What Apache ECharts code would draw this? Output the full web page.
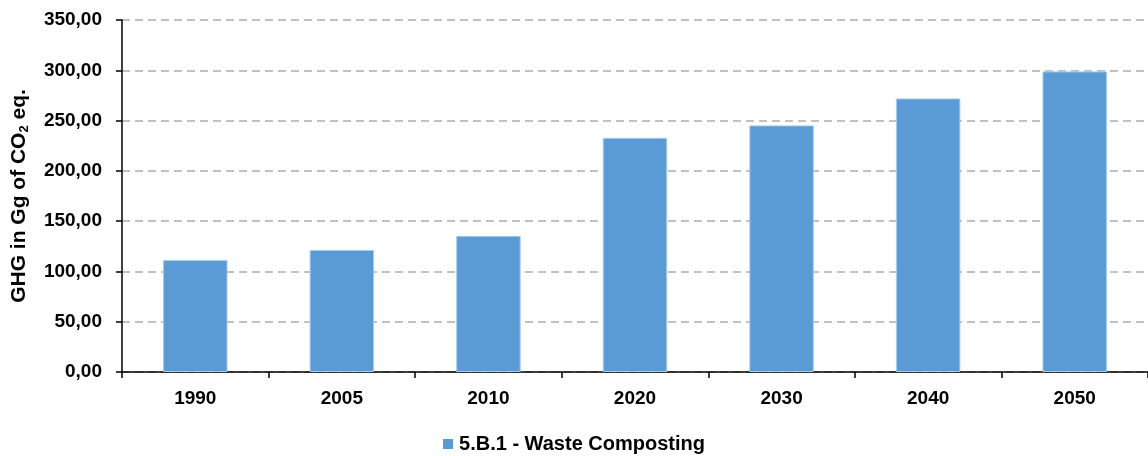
<!DOCTYPE html>
<html>
<head>
<meta charset="utf-8">
<script src="https://cdn.jsdelivr.net/npm/echarts@6/dist/echarts.min.js"></script>
<style>
  html, body { margin: 0; padding: 0; background: #fff; }
  #chart { width: 1148px; height: 456px; }
</style>
</head>
<body>
<div id="chart"></div>
<script>
// Composting emissions by year (Gg CO2 eq.)
const years = ['1990', '2005', '2010', '2020', '2030', '2040', '2050'];
const composting = [111.3, 121.3, 135.4, 232.9, 245.2, 272.0, 298.9];
const seriesName = '5.B.1 - Waste Composting';
const yMin = 0, yMax = 350, yStep = 50;

const font = 'Arial, "Liberation Sans", sans-serif';
const chart = echarts.init(document.getElementById('chart'));

chart.setOption({
  animation: false,
  textStyle: { fontFamily: font },
  grid: { left: 122, top: 20, right: -4, bottom: 84 },
  legend: {
    data: [seriesName],
    top: 429,
    left: 'center',
    itemWidth: 10,
    itemHeight: 10,
    itemGap: 4,
    icon: 'rect',
    itemStyle: { borderWidth: 0 },
    textStyle: { fontFamily: font, fontWeight: 'bold', fontSize: 20, color: '#000', padding: [0, 0, 0, 1] }
  },
  xAxis: {
    type: 'category',
    data: years,
    boundaryGap: true,
    axisLine: { lineStyle: { color: '#000', width: 1.5 } },
    axisTick: { show: true, length: 6, interval: 0, lineStyle: { color: '#000', width: 1.5 } },
    axisLabel: { fontFamily: font, fontWeight: 'bold', fontSize: 19, color: '#000', margin: 17 }
  },
  yAxis: {
    type: 'value',
    min: yMin,
    max: yMax,
    interval: yStep,
    name: '{a|GHG in Gg of CO}{s|2}{a| eq.}',
    nameLocation: 'middle',
    nameRotate: 90,
    nameGap: 91,
    nameTextStyle: {
      rich: {
        a: { fontFamily: font, fontWeight: 'bold', fontSize: 21, color: '#000' },
        s: { fontFamily: font, fontWeight: 'bold', fontSize: 13, color: '#000', verticalAlign: 'bottom', padding: [10, 0, 0, 0] }
      }
    },
    axisLine: { show: true, lineStyle: { color: '#000', width: 1.5 } },
    axisTick: { show: true, length: 6, lineStyle: { color: '#000', width: 1.5 } },
    axisLabel: {
      fontFamily: font, fontWeight: 'bold', fontSize: 19, color: '#000', margin: 20,
      formatter: v => v.toFixed(2).replace('.', ',')
    },
    splitLine: { show: true, lineStyle: { color: '#b0acac', type: [8, 5], width: 1.5 } }
  },
  series: [{
    name: seriesName,
    type: 'bar',
    data: composting,
    barWidth: '44%',
    itemStyle: { color: '#5b9bd5', borderColor: '#a9cbeb', borderWidth: 1 }
  }]
});
</script>
</body>
</html>
